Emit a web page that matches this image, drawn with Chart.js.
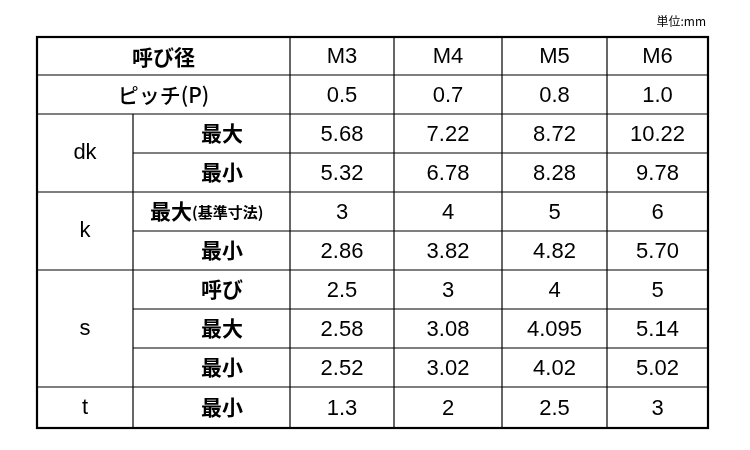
<!DOCTYPE html>
<html><head><meta charset="utf-8">
<script src="https://cdn.jsdelivr.net/npm/chart.js@4"></script>
<style>body{margin:0;background:#fff}</style>
</head><body>
<canvas id="c" width="750" height="450"></canvas>
<script>
const sizes = ["M3","M4","M5","M6"];
const pitch = ["0.5","0.7","0.8","1.0"];
const dkMax = ["5.68","7.22","8.72","10.22"];
const dkMin = ["5.32","6.78","8.28","9.78"];
const kMax = ["3","4","5","6"];
const kMin = ["2.86","3.82","4.82","5.70"];
const sNom = ["2.5","3","4","5"];
const sMax = ["2.58","3.08","4.095","5.14"];
const sMin = ["2.52","3.02","4.02","5.02"];
const tMin = ["1.3","2","2.5","3"];
const rows = [
  {g:"呼び径", l:null, v:sizes},
  {g:"ピッチ(P)", l:null, v:pitch},
  {g:"dk", l:"最大", v:dkMax, span:2},
  {g:null, l:"最小", v:dkMin},
  {g:"k", l:"最大", sub:"(基準寸法)", v:kMax, span:2},
  {g:null, l:"最小", v:kMin},
  {g:"s", l:"呼び", v:sNom, span:3},
  {g:null, l:"最大", v:sMax},
  {g:null, l:"最小", v:sMin},
  {g:"t", l:"最小", v:tMin, span:1}
];
const colEdges = [37,133,290,394,502,607,708];
const rowEdges = [37,75,114,153,192,231,270,309,348,387,428];

const tablePlugin = {
  id:'table',
  afterDraw(chart){
    const ctx = chart.ctx, xs = chart.scales.x, ys = chart.scales.y;
    const X = v=>xs.getPixelForValue(v), Y = v=>ys.getPixelForValue(v);
    ctx.save();
    ctx.strokeStyle = '#000';
    ctx.fillStyle = '#000';
    const line=(x1,y1,x2,y2,w)=>{ctx.lineWidth=w;ctx.beginPath();ctx.moveTo(X(x1),Y(y1));ctx.lineTo(X(x2),Y(y2));ctx.stroke();};
    const groupStarts = new Set([0,1,2,4,6,9,10]);
    for(let i=1;i<rowEdges.length-1;i++){
      const start = groupStarts.has(i) ? colEdges[0] : colEdges[1];
      line(start,rowEdges[i],colEdges[6],rowEdges[i],1.2);
    }
    for(let j=2;j<colEdges.length-1;j++) line(colEdges[j],rowEdges[0],colEdges[j],rowEdges[10],1.2);
    line(colEdges[1],rowEdges[2],colEdges[1],rowEdges[10],1.2);
    ctx.lineWidth=2.2;
    ctx.strokeRect(X(colEdges[0]),Y(rowEdges[0]),X(colEdges[6])-X(colEdges[0]),Y(rowEdges[10])-Y(rowEdges[0]));
    ctx.textBaseline='middle';
    ctx.textAlign='center';
    const jp = 'bold 21px "Noto Sans CJK JP"';
    const num = '22px "Liberation Sans"';
    rows.forEach((r,i)=>{
      const cy = (rowEdges[i]+rowEdges[i+1])/2;
      if(r.l===null){
        ctx.font = i===0 ? jp : '500 21px "Noto Sans CJK JP"';
        ctx.fillText(r.g, X((colEdges[0]+colEdges[2])/2), Y(cy+1));
      } else {
        if(r.g!==null){
          const gy = (rowEdges[i]+rowEdges[i+r.span])/2;
          ctx.font = num;
          ctx.fillText(r.g, X((colEdges[0]+colEdges[1])/2), Y(gy));
        }
        ctx.font = jp;
        if(r.sub){
          ctx.textAlign='left';
          ctx.fillText(r.l, X(150), Y(cy));
          const w = ctx.measureText(r.l).width;
          ctx.font = 'bold 15px "Noto Sans CJK JP"';
          ctx.fillText(r.sub, X(150)+w, Y(cy+1));
          ctx.textAlign='center';
        } else {
          ctx.fillText(r.l, X(222), Y(cy));
        }
      }
      ctx.font = num;
      r.v.forEach((t,k)=>ctx.fillText(t, X((colEdges[k+2]+colEdges[k+3])/2), Y(cy+1)));
    });
    ctx.font = '12px "Noto Sans CJK JP"';
    ctx.textAlign='right';
    ctx.fillText('単位:mm', X(706), Y(21));
    ctx.restore();
  }
};
new Chart(document.getElementById('c'),{
  type:'scatter',
  data:{datasets:[{data:[]}]},
  options:{
    responsive:false, animation:false,
    layout:{padding:0},
    plugins:{legend:{display:false},tooltip:{enabled:false}},
    scales:{
      x:{type:'linear',min:0,max:750,display:false},
      y:{type:'linear',min:0,max:450,reverse:true,display:false}
    }
  },
  plugins:[tablePlugin]
});
</script>
</body></html>
